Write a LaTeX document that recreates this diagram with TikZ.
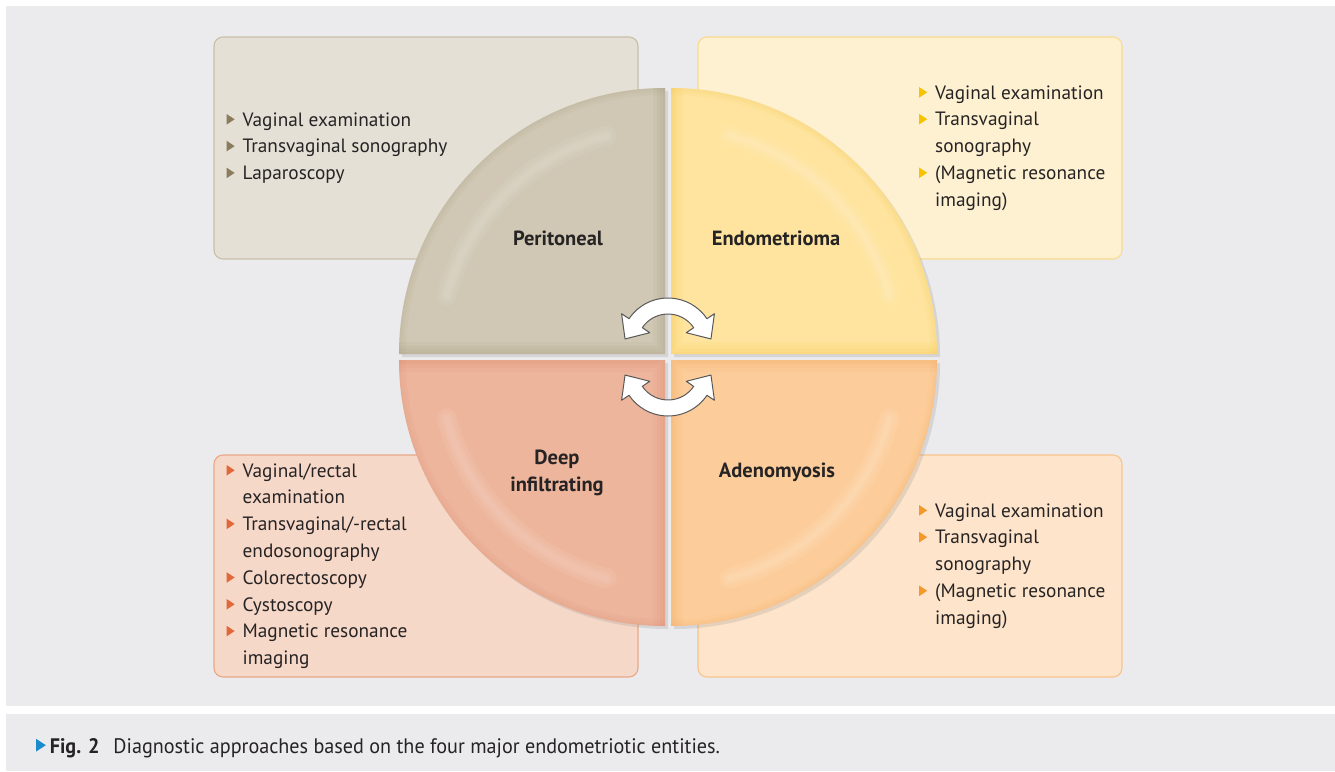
\documentclass[tikz,border=0pt]{standalone}
\usepackage{fontspec}
\setmainfont{PT Sans}
\newfontfamily\capfont[FakeStretch=0.96]{PT Sans}
\usetikzlibrary{positioning,calc,shadows}

\definecolor{panel}{HTML}{EBEBED}
\definecolor{txt}{HTML}{262324}
\definecolor{figblue}{HTML}{1B8BCB}
% boxes
\definecolor{f1}{HTML}{E4E0D6}\definecolor{d1}{HTML}{C9BEA8}\definecolor{t1}{HTML}{8C7C5E}
\definecolor{f2}{HTML}{FEF1D2}\definecolor{d2}{HTML}{F8DB90}\definecolor{t2}{HTML}{F7C200}
\definecolor{f3}{HTML}{F6D8C8}\definecolor{d3}{HTML}{E8A888}\definecolor{t3}{HTML}{E0683A}
\definecolor{f4}{HTML}{FDE4CA}\definecolor{d4}{HTML}{F8C48E}\definecolor{t4}{HTML}{F3982A}
% quarters
\definecolor{q1}{HTML}{D0C8B4}\definecolor{e1}{HTML}{A3967B}
\definecolor{q2}{HTML}{FEE49E}\definecolor{e2}{HTML}{F7C445}
\definecolor{q3}{HTML}{EDB59C}\definecolor{e3}{HTML}{D9876A}
\definecolor{q4}{HTML}{FCCD9A}\definecolor{e4}{HTML}{F2A45C}

\newcommand{\tri}[1]{\raisebox{1.5pt}{\tikz\fill[#1] (0pt,0pt) -- (0pt,10.5pt) -- (8pt,5.25pt) -- cycle;}}
\newcommand{\itm}[2]{\makebox[16pt][l]{\tri{#1}}#2}
\newcommand{\cnt}{\hspace*{16pt}}

% one quarter of the disc: corner x, corner y, start angle, fill, edge
\newcommand{\piece}[5]{%
  \fill[#4, drop shadow={shadow xshift=3pt, shadow yshift=-3pt, opacity=.2}]
    (#1,#2) -- ++(#3:266) arc[start angle=#3, end angle=#3+90, radius=266] -- cycle;
  \begin{scope}
    \clip (#1,#2) -- ++(#3:266) arc[start angle=#3, end angle=#3+90, radius=266] -- cycle;
    \foreach \w in {24,16,10,5}
      \draw[#5, line width=\w, opacity=.09] (#1,#2) ++(#3:266) -- (#1,#2) -- ++(#3+90:266);
    \foreach \w in {14,8,3}
      \draw[#5, line width=\w, opacity=.07] (#1,#2) ++(#3:266) arc[start angle=#3, end angle=#3+90, radius=266];
    \foreach \w in {20,12,6}
      \draw[white, line width=\w, opacity=.07, line cap=round] (#1,#2) ++(#3+15:226) arc[start angle=#3+15, end angle=#3+75, radius=226];
  \end{scope}}

\begin{document}
\begin{tikzpicture}[x=1pt,y=-1pt,
  box/.style={draw, line width=1.1pt, rounded corners=9pt, minimum width=424pt, minimum height=222pt},
  list/.style={align=left, inner sep=0pt, text=txt, font=\fontsize{19.3}{26.8}\selectfont},
  lab/.style={align=center, inner sep=0pt, text=txt, font=\bfseries\fontsize{20.5}{27}\selectfont},
  turn/.style={fill=white, draw=black!65, line width=1pt, line join=round}]
\useasboundingbox (0,0) rectangle (1335,771);
\fill[panel] (6,6) rectangle (1335,706);
\fill[panel] (6,714) rectangle (1335,771);

\node (b1) [box, fill=f1, draw=d1] at (426,148) {};
\node (b2) [box, fill=f2, draw=d2] at (910,148) {};
\node (b3) [box, fill=f3, draw=d3] at (426,566) {};
\node (b4) [box, fill=f4, draw=d4] at (910,566) {};

\piece{665}{354}{180}{q1}{e1}
\piece{671}{354}{270}{q2}{e2}
\piece{665}{360}{90}{q3}{e3}
\piece{671}{360}{0}{q4}{e4}

\node (a1) [lab] at (558,238) {Peritoneal};
\node (a2) [lab] at (776,238) {Endometrioma};
\node (a3) [lab] at (557,473) {Deep\\infiltrating};
\node (a4) [lab] at (777,472) {Adenomyosis};

% the two turning arrows
\filldraw[turn] (668,345) ++(214:47) arc[start angle=214, end angle=326, radius=47]
  -- ($(668,345)+(326:56)$) -- ($(668,345)+(326:39)+(56:19)$) -- ($(668,345)+(326:22)$)
  -- ($(668,345)+(326:31)$) arc[start angle=326, end angle=214, radius=31]
  -- ($(668,345)+(214:22)$) -- ($(668,345)+(214:39)+(124:19)$) -- ($(668,345)+(214:56)$) -- cycle;
\filldraw[turn] (668,369) ++(34:47) arc[start angle=34, end angle=146, radius=47]
  -- ($(668,369)+(146:56)$) -- ($(668,369)+(146:39)+(236:19)$) -- ($(668,369)+(146:22)$)
  -- ($(668,369)+(146:31)$) arc[start angle=146, end angle=34, radius=31]
  -- ($(668,369)+(34:22)$) -- ($(668,369)+(34:39)+(-56:19)$) -- ($(668,369)+(34:56)$) -- cycle;

\node (l1) [list, right=13pt of b1.west] {\itm{t1}{Vaginal examination}\\
  \itm{t1}{Transvaginal sonography}\\ \itm{t1}{Laparoscopy}};
\node (l2) [list, right=9pt of b2.center] {\itm{t2}{Vaginal examination}\\
  \itm{t2}{Transvaginal}\\ \cnt sonography\\ \itm{t2}{(Magnetic resonance}\\ \cnt imaging)};
\node (l3) [list, right=13pt of b3.west] {\itm{t3}{Vaginal/rectal}\\ \cnt examination\\
  \itm{t3}{Transvaginal/-rectal}\\ \cnt endosonography\\ \itm{t3}{Colorectoscopy}\\
  \itm{t3}{Cystoscopy}\\ \itm{t3}{Magnetic resonance}\\ \cnt imaging};
\node (l4) [list, right=9pt of b4.center] {\itm{t4}{Vaginal examination}\\
  \itm{t4}{Transvaginal}\\ \cnt sonography\\ \itm{t4}{(Magnetic resonance}\\ \cnt imaging)};

\node (c1) [anchor=west, inner sep=0pt, text=txt, font=\capfont\fontsize{21}{24}\selectfont] at (36,748)
  {\scalebox{1.2}{\tri{figblue}}\hspace{4pt}\textbf{Fig. 2}\hspace{14pt}Diagnostic approaches based on the four major endometriotic entities.};
\end{tikzpicture}
\end{document}
